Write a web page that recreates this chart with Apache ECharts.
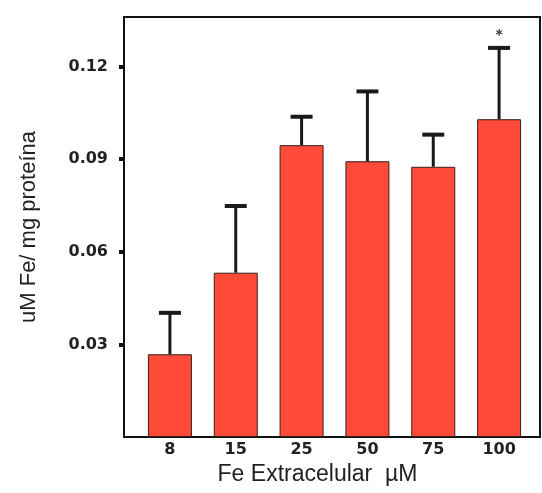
<!DOCTYPE html>
<html>
<head>
<meta charset="utf-8">
<script src="https://cdn.jsdelivr.net/npm/echarts@6/dist/echarts.min.js"></script>
<style>html,body{margin:0;padding:0;background:#fff;}#c{width:542px;height:493px;}</style>
</head>
<body>
<div id="c"></div>
<script>
var categories = ['8', '15', '25', '50', '75', '100'];
var means = [0.0268, 0.0532, 0.0945, 0.0893, 0.0875, 0.1029];
var errors = [0.0134, 0.0216, 0.0092, 0.0226, 0.0104, 0.0231];
var marks = ['', '', '', '', '', '*'];
var yTicks = [0.03, 0.06, 0.09, 0.12];

var errData = categories.map(function (c, i) { return [i, means[i], errors[i]]; });

var chart = echarts.init(document.getElementById('c'), null, {renderer: 'canvas'});
chart.setOption({
  animation: false,
  backgroundColor: '#ffffff',
  grid: [
    {left: 124, right: 2, top: 17, bottom: 56, show: true, borderColor: '#111', borderWidth: 2, backgroundColor: 'transparent'},
    {left: 137, right: 10, top: 17, bottom: 56}
  ],
  xAxis: [
    {gridIndex: 0, type: 'value', show: false, min: 0, max: 1},
    {gridIndex: 1, type: 'category', data: categories,
     axisLine: {show: false}, axisTick: {show: false},
     axisLabel: {margin: 5, color: '#222', fontFamily: 'DejaVu Sans', fontWeight: 'bold', fontSize: 16},
     name: 'Fe Extracelular  \u00b5M', nameLocation: 'middle', nameGap: 24,
     nameTextStyle: {color: '#222', fontFamily: 'Liberation Sans, Arial', fontSize: 23, padding: [0, 34, 0, 0]}
    }
  ],
  yAxis: [
    {gridIndex: 0, type: 'value', show: false, min: 0, max: 1},
    {gridIndex: 1, type: 'value', min: 0, max: 0.136, interval: 0.03, offset: 13,
     splitLine: {show: false},
     axisLine: {show: false},
     axisTick: {show: true, inside: false, length: 5, lineStyle: {color: '#111', width: 4}, customValues: yTicks},
     axisLabel: {margin: 16, color: '#222', fontFamily: 'DejaVu Sans', fontWeight: 'bold', fontSize: 16,
       customValues: yTicks,
       formatter: function (v) { return v.toFixed(2); }},
     name: 'uM Fe/ mg prote\u00edna', nameLocation: 'middle', nameGap: 84,
     nameTextStyle: {color: '#222', fontFamily: 'Liberation Sans, Arial', fontSize: 22}
    }
  ],
  series: [
    {type: 'bar', xAxisIndex: 1, yAxisIndex: 1, data: means, barWidth: 44,
     itemStyle: {color: '#fd4a39', borderColor: '#3a1f18', borderWidth: 1}, z: 2},
    {type: 'custom', xAxisIndex: 1, yAxisIndex: 1, data: errData, z: 3,
     renderItem: function (params, api) {
       var i = api.value(0), m = api.value(1), e = api.value(2);
       var p0 = api.coord([i, m]);
       var p1 = api.coord([i, m + e]);
       var half = 11;
       var children = [
         {type: 'line', shape: {x1: p0[0], y1: p0[1], x2: p1[0], y2: p1[1]}, style: {stroke: '#1a1a1a', lineWidth: 3}},
         {type: 'line', shape: {x1: p1[0] - half, y1: p1[1], x2: p1[0] + half, y2: p1[1]}, style: {stroke: '#1a1a1a', lineWidth: 4}}
       ];
       var mk = marks[params.dataIndex];
       if (mk) {
         children.push({type: 'text', style: {text: mk, x: p1[0], y: p1[1] - 6, align: 'center', verticalAlign: 'bottom',
           fill: '#333', font: 'bold 14px DejaVu Sans'}});
       }
       return {type: 'group', children: children};
     }
    }
  ]
});
</script>
</body>
</html>
